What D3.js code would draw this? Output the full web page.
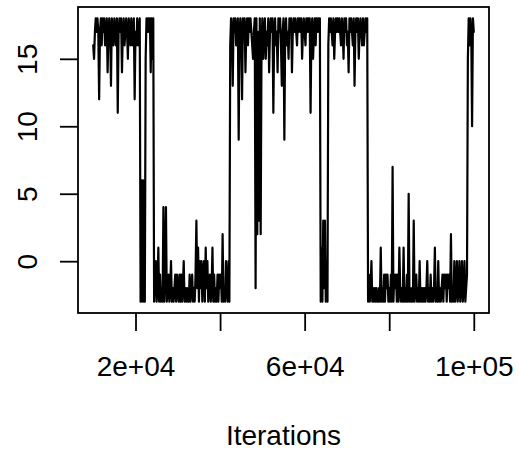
<!DOCTYPE html>
<html>
<head>
<meta charset="utf-8">
<script src="https://cdn.jsdelivr.net/npm/d3@7"></script>
<style>
  body { margin: 0; background: #fff; }
  text { font-family: "Liberation Sans", Arial, Helvetica, sans-serif; }
</style>
</head>
<body>
<svg id="chart" width="519" height="454"></svg>
<script>
// trace values, one every `thin` iterations, split by regime
const startIter = 10000, thin = 200;
const highA = [16,15,17,18,17,18,17,12,17,18, 16,18,17,18,16,17,18,14,17,18,
  17,13,18,17,16,18,17,16,18,11, 17,18,17,18,14,17,18,16,17,18,
  17,15,18,17,16,18,16,17,18,12, 17,16,18,16,17,18];
const dipA = [-3,6,-3,6,-3,-3];
const highB = [15,18,17,18,17,18,14,18,15,18];
const lowA = [-3,-1,0,-3,-2,1,-3,-1,-3,-2, -3,4,-3,-1,4,-3,-2,-1,-3,-2,
  0,-3,-2,-3,-2,-1,-3,-1,-2,-3, -1,-3,-1,-3,-2,0,-3,-2,-3,-2,
  -3,-3,-1,-3,-2,-1,-3,-2,-3,-1, 3,-2,1,-3,0,-2,0,-3,-1,0,
  -3,1,-2,0,-3,-2,-1,-3,-2,1, -3,-1,-3,-2,-3,-1,-3,-1,-2,-1,
  -3,2,-3,-2,-3,0,-2,-3,0,-3];
const highC = [16,18,17,13,18,17,18,16,17,18, 9,17,18,17,12,18,17,18,14,17,
  18,16,18,17,18,17,16,15,17,18, -2,18,2,17,3,18,2,16,18,15,
  17,18,15,17,16,18,14,17,18,17, 18,11,17,18,16,17,14,18,17,18,
  16,13,17,18,9,17,18,16,17,15, 18,17,18,14,17,18,17,18,17,16,
  18,17,18,17,18,15,17,18,17,16, 18,17,18,17,18,11,17,18,15,17,
  18,16,18,17,18,17,18];
const dipB = [-3,1,-3,3,-2,3,-3,0,-3];
const highD = [16,18,17,18,17,16,18,15,17,18, 17,18,17,18,17,16,18,17,15,18,
  17,18,16,17,14,18,17,18,17,16, 18,13,17,18,17,18,15,17,18,17,
  16,18,16,17,18,17,18];
const lowB = [-3,-1,-3,-2,0,-3,-2,-3,-2,-3, -2,-3,-3,-2,-3,1,-3,-2,-3,-1,
  -3,-1,-2,-1,-3,-2,-3,-1,-3,7, -3,-1,-2,-1,-3,-1,-3,1,-2,-3,
  -2,-3,1,-3,-2,-3,-1,-3,5,-3, -2,-3,-2,-3,3,-3,-2,-1,-3,-2,
  -3,0,-3,-2,-3,-2,-3,-2,-3,-2, 0,-3,-2,-3,-1,-3,-2,-3,-2,1,
  -3,-2,-3,0,-3,-2,-3,-2,-1,-3, -1,-2,-1,-3,-1,-2,-1,-3,2,-3,
  -2,-3,0,-3,-2,0,-3,-2,0,-3, -2,0,-3,-2,0,-3,-2,-1];
const highE = [15,18,16,18,17,10,18,17];

const trace = [].concat(highA, dipA, highB, lowA, highC, dipB, highD, lowB, highE);

const xTicks = [20000, 40000, 60000, 80000, 100000];
const xLabels = {20000: "2e+04", 60000: "6e+04", 100000: "1e+05"};
const yTicks = [0, 5, 10, 15];
const xTitle = "Iterations";

const svg = d3.select("#chart");
const box = {left: 78, right: 489, top: 7, bottom: 313};
const fontSize = 28;

const lastIter = startIter + thin * (trace.length - 1);
const padX = (lastIter - startIter) * 0.04;
const yMin = d3.min(trace), yMax = d3.max(trace), padY = (yMax - yMin) * 0.04;

const x = d3.scaleLinear()
    .domain([startIter - padX, lastIter + padX])
    .range([box.left, box.right]);

const y = d3.scaleLinear()
    .domain([yMin - padY, yMax + padY])
    .range([box.bottom, box.top]);

// trace line
const line = d3.line()
    .x((d, i) => x(startIter + i * thin))
    .y(d => y(d));

svg.append("path")
    .datum(trace)
    .attr("d", line)
    .attr("fill", "none")
    .attr("stroke", "#000")
    .attr("stroke-width", 2.2)
    .attr("stroke-linejoin", "round")
    .attr("stroke-linecap", "round");

// x axis
const gX = svg.append("g")
    .attr("transform", "translate(0," + box.bottom + ")")
    .call(d3.axisBottom(x).tickValues(xTicks).tickSize(18).tickSizeOuter(0)
        .tickFormat(d => xLabels[d] || ""));
gX.select(".domain").remove();
gX.selectAll("line").attr("stroke-width", 1.8);
gX.selectAll("text")
    .attr("y", 63)
    .attr("dy", 0)
    .attr("font-size", fontSize)
    .attr("font-family", "Liberation Sans, Arial, sans-serif");

// y axis
const gY = svg.append("g")
    .attr("transform", "translate(" + box.left + ",0)")
    .call(d3.axisLeft(y).tickValues(yTicks).tickSize(18).tickSizeOuter(0));
gY.select(".domain").remove();
gY.selectAll("line").attr("stroke-width", 1.8);
gY.selectAll("text")
    .attr("x", 0)
    .attr("y", 0)
    .attr("dy", 0)
    .attr("transform", "translate(-41,0) rotate(-90)")
    .attr("text-anchor", "middle")
    .attr("font-size", fontSize)
    .attr("font-family", "Liberation Sans, Arial, sans-serif");

// box
svg.append("rect")
    .attr("x", box.left)
    .attr("y", box.top)
    .attr("width", box.right - box.left)
    .attr("height", box.bottom - box.top)
    .attr("fill", "none")
    .attr("stroke", "#000")
    .attr("stroke-width", 1.8);

// axis title
svg.append("text")
    .attr("x", (box.left + box.right) / 2)
    .attr("y", 445)
    .attr("text-anchor", "middle")
    .attr("font-size", fontSize)
    .text(xTitle);
</script>
</body>
</html>
